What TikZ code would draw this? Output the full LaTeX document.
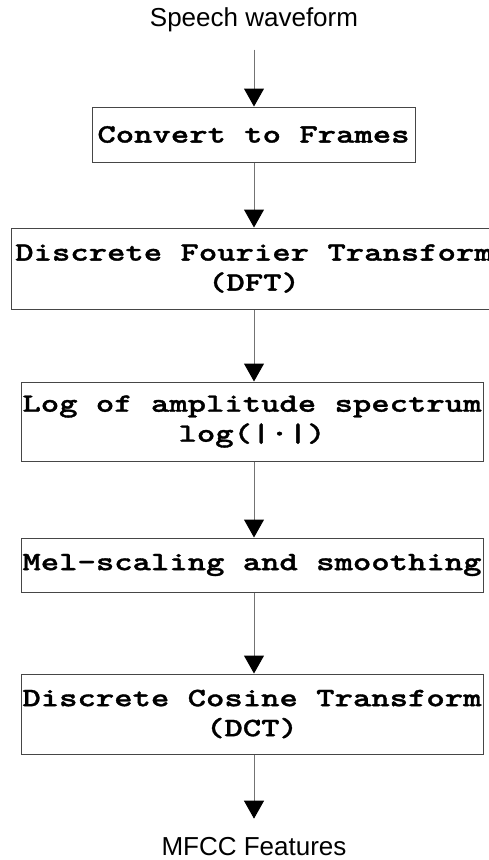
\documentclass[tikz,border=0pt]{standalone}
\usepackage{fontspec}
\setmainfont{Liberation Sans}
% bold typewriter face for the stage boxes, widened to a Courier-like pitch
\IfFontExistsTF{lmmonolt10-bold.otf}
  {\newfontfamily\boxfont[FakeStretch=1.32,FakeBold=1.3]{lmmonolt10-bold.otf}}
  {\newfontfamily\boxfont[FakeStretch=1.18]{Liberation Mono}}
\usetikzlibrary{arrows.meta}
\definecolor{shaftgray}{RGB}{115,115,115}
\definecolor{framegray}{RGB}{70,70,70}
\tikzset{
  stage/.style={draw=framegray, line width=1pt, fill=white, inner sep=0pt,
    align=center, font=\boxfont\fontsize{26.5}{30}\selectfont},
  endlabel/.style={inner sep=0pt, font=\fontsize{26}{30}\selectfont},
  flow/.style={draw=shaftgray, line width=1pt,
    -{Triangle[width=20pt,length=18pt,color=black,fill=black]}},
}
\begin{document}
\begin{tikzpicture}[x=1pt,y=-1pt]
\useasboundingbox (0,0) rectangle (489,860);
\clip (0,0) rectangle (489,860);
\fill[white] (0,0) rectangle (489,860);
\coordinate (ax) at (254,0);

\node[endlabel, anchor=base] (src) at (254,26) {Speech waveform};

\node[stage, minimum width=323pt, minimum height=55pt] (frames) at (253.5,134.5)
  {Convert to Frames};
\node[stage, minimum width=486pt, minimum height=81pt] (dft) at (254,268.5)
  {Discrete Fourier Transform\\(DFT)};
\node[stage, minimum width=462pt, minimum height=79pt] (logamp) at (252,421.5)
  {Log of amplitude spectrum\\log(|·|)};
\node[stage, minimum width=462pt, minimum height=54pt] (mel) at (252,565)
  {Mel-scaling and smoothing};
\node[stage, minimum width=462pt, minimum height=80pt] (dct) at (252,714)
  {Discrete Cosine Transform\\(DCT)};

\node[endlabel, anchor=base] (mfcc) at (254,855) {MFCC Features};

\draw[flow, shorten <=18pt] (ax |- src.south) -- (ax |- frames.north);
\draw[flow] (ax |- frames.south) -- (ax |- dft.north);
\draw[flow] (ax |- dft.south) -- (ax |- logamp.north);
\draw[flow] (ax |- logamp.south) -- (ax |- mel.north);
\draw[flow] (ax |- mel.south) -- (ax |- dct.north);
\draw[flow, shorten >=18pt] (ax |- dct.south) -- (ax |- mfcc.north);
\end{tikzpicture}
\end{document}
